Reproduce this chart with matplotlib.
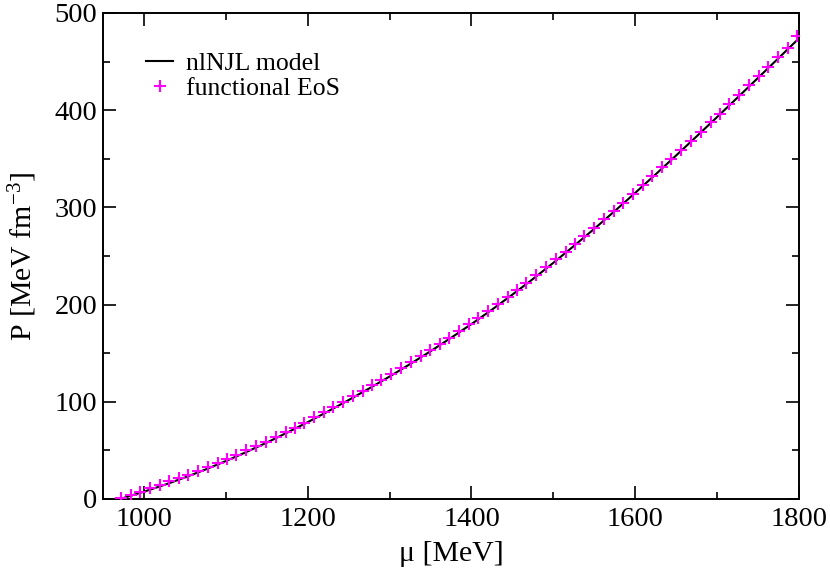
#!/usr/bin/env python

import numpy as np
import matplotlib
matplotlib.use('Agg')
import matplotlib.pyplot as plt
from matplotlib.ticker import MultipleLocator

plt.rcParams['font.family'] = ['Liberation Serif', 'DejaVu Serif']
plt.rcParams['mathtext.fontset'] = 'custom'
plt.rcParams['mathtext.rm'] = 'Liberation Serif'
plt.rcParams['mathtext.it'] = 'Liberation Serif:italic'

# nlNJL model curve (mu in MeV, P in MeV fm^-3)
mu_model = [971, 985, 1000, 1025, 1050, 1075, 1100, 1125, 1150, 1175, 1200,
            1225, 1250, 1275, 1300, 1325, 1350, 1375, 1400, 1425, 1450,
            1475, 1500, 1525, 1550, 1575, 1600, 1625, 1650, 1675, 1700,
            1725, 1750, 1775, 1800]
p_model = [0.0, 3.6, 7.5, 14.5, 22.1, 30.3, 39.0, 48.3, 58.0, 68.3, 79.0,
           90.2, 101.8, 113.7, 126.0, 138.8, 152.0, 165.8, 180.0, 194.8, 210.3,
           226.3, 243.0, 260.3, 278.0, 296.3, 315.0, 334.1, 353.5, 373.1, 393.0,
           413.1, 433.3, 453.6, 474.0]

# functional EoS points
mu_fit = [972, 984, 995, 1007, 1019, 1031, 1043, 1054, 1066, 1078, 1090,
          1102, 1113, 1125, 1137, 1149, 1161, 1173, 1184, 1196, 1208, 1220,
          1231, 1243, 1255, 1267, 1279, 1290, 1302, 1314, 1326, 1338, 1349,
          1361, 1373, 1385, 1397, 1408, 1420, 1432, 1444, 1456, 1467, 1479,
          1491, 1503, 1515, 1526, 1538, 1550, 1562, 1574, 1585, 1597, 1609,
          1621, 1633, 1644, 1656, 1668, 1680, 1692, 1703, 1715, 1727, 1739,
          1751, 1762, 1774, 1786, 1798]
p_fit = [0.5, 4.5, 7.5, 11.0, 14.5, 18.0, 21.5, 25.0, 29.0, 33.0, 37.0,
         41.5, 45.5, 50.0, 54.5, 59.0, 64.0, 69.0, 73.5, 78.5, 84.0, 89.5,
         94.5, 100.0, 105.5, 111.5, 117.0, 122.5, 128.5, 134.5, 140.8, 147.0, 153.0,
         159.5, 166.0, 173.0, 179.8, 186.0, 193.0, 200.5, 208.0, 215.5, 222.5, 230.5,
         238.5, 246.5, 254.5, 262.0, 270.5, 279.0, 288.0, 296.5, 305.0, 314.0, 323.0,
         332.0, 341.5, 350.0, 359.5, 368.5, 378.0, 387.5, 396.5, 406.0, 416.0, 425.5,
         435.5, 444.5, 454.5, 464.5, 476.5]

fig = plt.figure(figsize=(8.3, 5.7), dpi=100)
ax = fig.add_axes([0.1241, 0.1246, 0.8386, 0.8526])

ax.plot(mu_model, p_model, color='black', lw=1.5, label='nlNJL model', zorder=2)
ax.plot(mu_fit, p_fit, ls='none', marker='+', ms=8.5, mew=1.5, color='#ff00ff',
        label='functional EoS', zorder=3)

ax.set_xlim(950, 1800)
ax.set_ylim(0, 500)
ax.xaxis.set_major_locator(MultipleLocator(200))
ax.xaxis.set_minor_locator(MultipleLocator(100))
ax.yaxis.set_major_locator(MultipleLocator(100))
ax.yaxis.set_minor_locator(MultipleLocator(50))

ax.tick_params(which='both', direction='in', top=True, right=True, width=1.2)
ax.tick_params(which='major', length=9.5, labelsize=20.5)
ax.tick_params(which='minor', length=5)
ax.tick_params(axis='x', which='major', pad=6)
ax.tick_params(axis='y', which='major', pad=4)
for s in ax.spines.values():
    s.set_linewidth(1.4)

ax.set_xlabel('μ [MeV]', fontsize=21.5, labelpad=6)
ax.set_ylabel(r'P [MeV fm$^{-3}$]', fontsize=21.5, labelpad=11)

ax.legend(loc='upper left', bbox_to_anchor=(0.062, 0.92), frameon=False,
          fontsize=18.5, borderpad=0, borderaxespad=0, handlelength=1.05,
          handletextpad=0.5, labelspacing=0.09)

plt.savefig('out.png', dpi=100)
